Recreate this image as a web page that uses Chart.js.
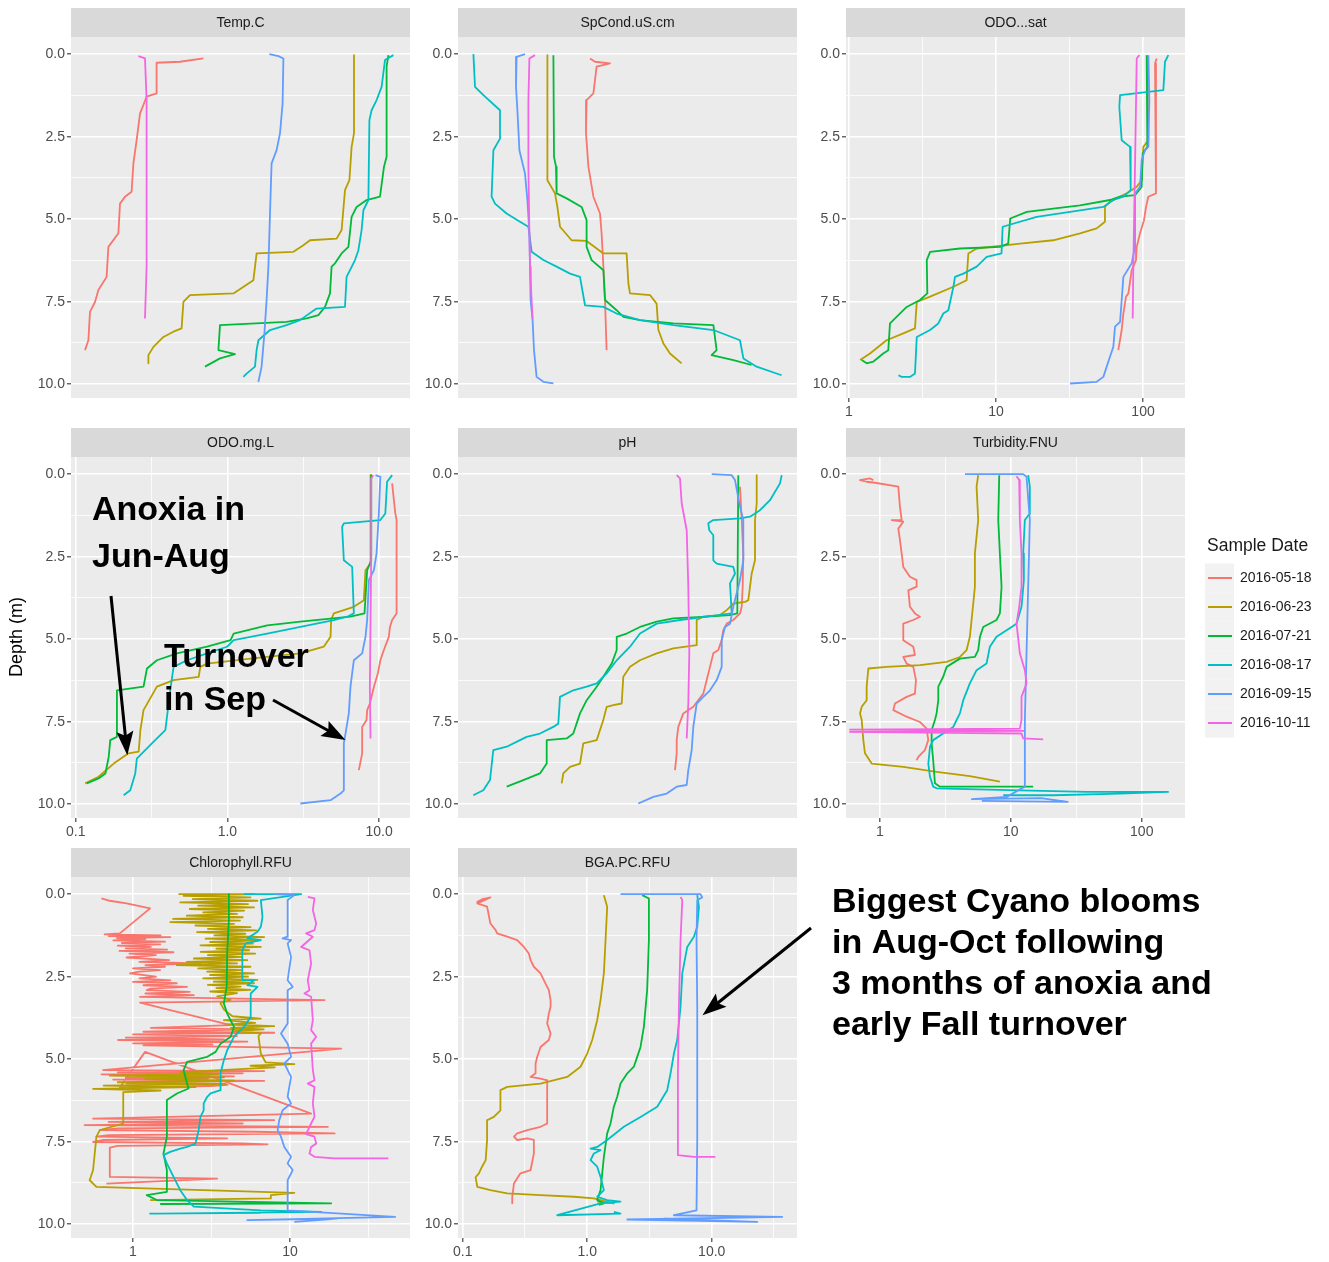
<!DOCTYPE html>
<html>
<head>
<meta charset="utf-8">
<title>Lake profiles 2016</title>
<script src="https://cdn.jsdelivr.net/npm/chart.js@4.4.1/dist/chart.umd.min.js"></script>
<style>
  html, body { margin: 0; padding: 0; background: #ffffff; }
  #page { position: relative; width: 1329px; height: 1262px; overflow: hidden; }
  .panel { position: absolute; z-index: 1; }
  #overlay { position: absolute; left: 0; top: 0; z-index: 5; pointer-events: none; }
</style>
</head>
<body>
<div id="page"><canvas id="overlay" width="1329" height="1262"></canvas></div>
<script>
const FONT = '"Liberation Sans", Arial, Helvetica, sans-serif';

// ---- categories ----
const sampleDates = ['2016-05-18', '2016-06-23', '2016-07-21', '2016-08-17', '2016-09-15', '2016-10-11'];
const panelTitles = ['Temp.C', 'SpCond.uS.cm', 'ODO...sat', 'ODO.mg.L', 'pH', 'Turbidity.FNU', 'Chlorophyll.RFU', 'BGA.PC.RFU'];

// ---- depth axis (m) ----
const depthBreaks = [0, 2.5, 5, 7.5, 10];
const depthMinorBreaks = [1.25, 3.75, 6.25, 8.75];
const depthLimits = [-0.52, 10.42];

// ---- measured axis of each panel ----
const axisLimits = [[10.8, 27.75], [330, 499.5], [0.954, 193], [0.0931, 16.0], [6.5, 9.89], [0.55, 214], [0.403, 58.1], [0.0917, 48.4]];
const axisLog = [false, false, true, true, false, true, true, true];
const axisBreaks = [[], [], [1, 10, 100], [0.1, 1, 10], [], [1, 10, 100], [1, 10], [0.1, 1, 10]];
const axisBreakLabels = [[], [], ['1', '10', '100'], ['0.1', '1.0', '10.0'], [], ['1', '10', '100'], ['1', '10'], ['0.1', '1.0', '10.0']];
const axisMinorBreaks = [[], [], [3.162, 31.62], [0.3162, 3.162], [], [3.162, 31.62], [3.162, 31.62], [0.3162, 3.162, 31.62]];

// ---- profiles: one series per sample date, [value, depth] ----
const temperature = [
  [[17.42,0.13],[16.25,0.23],[15.08,0.26],[15.08,1.19],[14.58,1.29],[14.25,1.80],[14.08,2.61],[13.92,3.31],[13.83,4.17],[13.5,4.32],[13.25,4.53],[13.17,5.43],[12.67,5.84],[12.58,6.75],[12.17,7.15],[12.0,7.51],[11.75,7.81],[11.67,8.67],[11.5,8.97]],
  [[24.95,0.03],[24.95,2.40],[24.83,2.81],[24.72,3.82],[24.5,4.12],[24.33,5.33],[24.08,5.59],[22.75,5.64],[22.42,5.79],[21.92,5.99],[20.08,6.04],[19.92,6.85],[18.92,7.25],[16.75,7.30],[16.42,7.51],[16.33,8.31],[15.92,8.41],[15.42,8.57],[14.92,8.87],[14.67,9.12],[14.67,9.37]],
  [[26.67,0.03],[26.58,0.38],[26.58,3.11],[26.45,3.41],[26.25,4.32],[25.58,4.42],[25.08,4.63],[24.83,4.93],[24.67,5.84],[24.33,6.04],[24.0,6.34],[23.83,6.44],[23.75,7.25],[23.5,7.66],[23.17,7.91],[22.58,8.01],[21.58,8.11],[18.25,8.21],[18.17,8.97],[19.0,9.09],[18.25,9.22],[17.5,9.47]],
  [[26.92,0.03],[26.5,0.18],[26.33,0.99],[26.08,1.39],[25.83,1.70],[25.72,2.0],[25.67,4.42],[25.42,4.73],[25.33,5.33],[25.17,5.94],[25.0,6.24],[24.58,6.75],[24.5,7.66],[23.08,7.71],[22.25,8.06],[21.58,8.21],[20.75,8.36],[20.17,8.67],[20.08,8.97],[20.0,9.47],[19.58,9.68],[19.42,9.78]],
  [[20.72,0],[21.17,0.06],[21.42,0.13],[21.38,1.49],[21.25,2.40],[21.08,2.91],[20.83,3.31],[20.75,4.83],[20.67,6.44],[20.58,7.45],[20.47,8.46],[20.33,9.47],[20.17,9.93]],
  [[14.17,0.06],[14.5,0.13],[14.58,1.39],[14.58,6.44],[14.5,8.01]]
];

const spCond = [
  [[396,0.13],[398.5,0.23],[406,0.28],[399.3,0.38],[398.5,0.79],[397.7,1.19],[394.3,1.39],[394,2.40],[395.2,3.41],[397.7,4.32],[401,4.83],[401.8,5.43],[402.7,6.44],[403.5,7.45],[404.3,8.97]],
  [[374.7,0.03],[374.7,3.82],[378.5,4.22],[379.7,4.63],[381,5.23],[386.8,5.64],[394.3,5.66],[402.7,6.04],[414.3,6.04],[415.2,6.95],[416,7.25],[426,7.30],[429.3,7.56],[430.2,8.36],[432.7,8.77],[436,9.07],[441.8,9.37]],
  [[377.7,0.03],[378,3.11],[379,3.41],[379.3,4.22],[384.3,4.37],[391.8,4.63],[394.3,5.03],[394.3,5.84],[396.8,6.24],[402.7,6.55],[403.5,7.45],[409.3,7.76],[412.7,7.96],[421,8.06],[437.7,8.16],[457.7,8.21],[459.3,8.97],[456.8,9.12],[467.7,9.27],[476.8,9.42]],
  [[337.7,0],[338.5,0.99],[342.7,1.24],[351,1.70],[351,2.56],[347.7,2.91],[346.8,4.32],[348.5,4.53],[354.3,4.83],[361,5.08],[365.2,5.23],[366.8,5.99],[372.7,6.24],[379.3,6.44],[386,6.65],[391,6.75],[393.5,7.61],[402.7,7.66],[409.3,7.86],[421,8.06],[437.7,8.21],[457.7,8.36],[471,8.67],[472.7,9.22],[479.3,9.47],[491.8,9.73]],
  [[363.5,0],[359.3,0.08],[359,0.99],[359.7,1.70],[360.7,2.91],[363.5,3.62],[364.7,4.42],[365.7,5.43],[366,6.44],[366.3,7.45],[367.3,8.06],[368,8.97],[369.3,9.78],[372.7,9.93],[377.7,9.98]],
  [[368.5,0.03],[365.7,0.13],[365.2,1.39],[365.2,3.41],[365.7,5.43],[366,6.44],[366.8,7.45],[367.3,8.01]]
];

const odoSat = [
  [[123.9,0.13],[120.7,0.28],[122.5,4.22],[108.6,4.32],[104.8,4.63],[101.6,5.03],[95.4,5.43],[90.6,5.84],[89.6,6.24],[83.7,6.55],[79.5,7.25],[76.6,7.35],[73.5,7.86],[71.6,8.36],[67.9,8.97]],
  [[107.0,0.03],[108.7,2.61],[100.5,2.81],[97.9,3.82],[90.6,4.02],[77.4,4.22],[59.6,4.47],[55.1,4.63],[55.1,5.08],[48.4,5.28],[37.3,5.43],[24.5,5.64],[14.6,5.74],[7.39,5.89],[6.48,6.04],[6.31,6.85],[5.13,7.05],[3.56,7.35],[2.89,7.51],[2.81,8.31],[2.34,8.46],[1.80,8.67],[1.39,9.07],[1.19,9.27]],
  [[105.9,0.03],[107.0,2.81],[99.5,3.01],[97.9,4.02],[88.2,4.27],[69.8,4.32],[59.6,4.42],[37.3,4.58],[24.5,4.68],[16.2,4.78],[12.5,4.98],[12.1,5.74],[10.65,5.84],[5.69,5.89],[3.56,5.99],[3.38,6.24],[3.41,7.25],[3.04,7.45],[2.47,7.66],[1.90,8.16],[1.85,8.97],[1.71,9.07],[1.46,9.32],[1.32,9.37],[1.22,9.27]],
  [[148.6,0.03],[141.1,0.23],[137.5,1.09],[69.8,1.24],[69.0,1.60],[71.6,2.61],[81.6,2.81],[82.4,4.12],[73.5,4.32],[62.8,4.42],[53.7,4.63],[31.9,4.78],[18.9,4.93],[11.1,5.23],[10.9,6.04],[8.64,6.14],[7.39,6.44],[6.0,6.65],[5.26,6.75],[5.13,7.05],[4.74,7.76],[4.38,7.86],[4.05,8.16],[3.56,8.36],[2.89,8.57],[2.81,9.68],[2.60,9.78],[2.28,9.78],[2.17,9.73]],
  [[108.7,0.03],[110.4,1.39],[108.7,2.81],[103.2,2.91],[97.9,3.21],[95.4,4.02],[88.2,4.22],[88.2,5.84],[83.7,6.34],[73.5,6.75],[71.6,7.45],[69.8,8.11],[64.5,8.26],[62.8,8.87],[59.6,9.17],[53.7,9.78],[48.4,9.93],[31.9,9.98]],
  [[94.4,0.03],[90.6,0.13],[88.2,3.41],[85.9,6.44],[85.1,8.01]]
];

const odoMgL = [
  [[12.2,0.28],[12.8,1.19],[13.05,1.39],[13.05,4.22],[12.2,4.42],[11.8,4.63],[11.6,4.93],[10.76,5.33],[10.2,5.64],[9.82,6.04],[9.25,6.44],[8.70,6.95],[8.35,7.15],[8.27,7.45],[7.74,7.66],[7.74,8.46],[7.36,8.97]],
  [[8.79,0.03],[8.79,2.71],[8.14,2.91],[7.94,3.82],[6.82,4.02],[5.03,4.22],[4.83,4.42],[4.79,4.93],[4.32,5.23],[3.03,5.43],[1.42,5.59],[0.734,5.74],[0.663,5.84],[0.647,6.14],[0.442,6.24],[0.343,6.44],[0.280,7.15],[0.267,7.76],[0.260,8.41],[0.223,8.46],[0.178,8.77],[0.1415,9.17],[0.1155,9.37]],
  [[8.88,0.03],[8.88,2.61],[8.35,2.91],[8.02,4.22],[6.48,4.32],[3.03,4.47],[1.83,4.58],[1.10,4.83],[1.05,5.03],[0.734,5.23],[0.465,5.43],[0.343,5.64],[0.295,5.89],[0.280,6.44],[0.187,6.55],[0.187,7.96],[0.169,8.06],[0.165,8.57],[0.157,9.07],[0.1415,9.22],[0.1185,9.37]],
  [[12.2,0.03],[11.3,0.23],[11.0,1.19],[10.2,1.39],[5.86,1.49],[5.71,1.60],[5.86,2.61],[6.65,2.81],[6.82,4.22],[6.17,4.32],[5.03,4.42],[3.03,4.63],[1.83,4.83],[1.10,5.03],[0.995,5.23],[0.734,5.43],[0.542,5.64],[0.442,5.84],[0.420,6.55],[0.390,7.76],[0.318,8.16],[0.253,8.62],[0.247,9.07],[0.229,9.58],[0.207,9.73]],
  [[9.48,0.03],[10.2,0.08],[9.97,1.19],[9.63,2.40],[9.25,2.91],[8.57,3.21],[8.35,4.42],[8.14,4.93],[7.74,5.43],[6.82,5.64],[6.48,6.44],[6.32,7.25],[6.01,7.86],[5.86,8.16],[5.86,9.58],[5.57,9.68],[4.79,9.88],[3.03,9.98]],
  [[9.15,0.03],[8.88,0.13],[8.88,2.40],[8.79,4.42],[8.70,6.44],[8.79,8.01]]
];

const pH = [
  [[9.32,0.38],[9.337,1.39],[9.353,2.40],[9.347,3.41],[9.337,4.02],[9.32,4.22],[9.253,4.42],[9.187,4.53],[9.153,4.73],[9.137,5.03],[9.103,5.33],[9.053,5.43],[9.02,5.84],[8.987,6.24],[8.953,6.65],[8.853,7.05],[8.753,7.25],[8.703,7.66],[8.687,8.06],[8.687,8.46],[8.67,8.97]],
  [[9.487,0.03],[9.487,0.89],[9.47,1.39],[9.47,2.61],[9.437,3.01],[9.403,3.82],[9.37,3.87],[9.253,3.92],[9.187,4.12],[9.12,4.27],[8.953,4.32],[8.887,4.42],[8.887,5.18],[8.653,5.28],[8.487,5.43],[8.32,5.64],[8.22,5.84],[8.153,6.14],[8.137,6.95],[8.053,7.0],[7.987,7.05],[7.953,7.45],[7.887,8.06],[7.753,8.16],[7.72,8.77],[7.62,8.87],[7.553,9.07],[7.537,9.37]],
  [[9.303,0.03],[9.293,4.22],[9.22,4.27],[8.987,4.32],[8.653,4.37],[8.487,4.47],[8.32,4.63],[8.187,4.83],[8.087,4.93],[8.087,5.33],[8.037,5.74],[7.953,6.14],[7.887,6.44],[7.787,6.85],[7.72,7.25],[7.653,7.86],[7.587,8.01],[7.387,8.06],[7.387,8.77],[7.32,9.07],[7.153,9.27],[6.987,9.47]],
  [[9.737,0.03],[9.72,0.28],[9.62,0.79],[9.52,1.09],[9.42,1.29],[9.32,1.34],[9.053,1.39],[9.003,1.49],[9.013,1.70],[9.053,1.85],[9.053,2.61],[9.087,2.71],[9.253,2.81],[9.27,3.01],[9.22,3.31],[9.237,4.22],[8.987,4.32],[8.72,4.42],[8.487,4.53],[8.32,4.83],[8.22,5.23],[8.087,5.64],[7.987,6.04],[7.887,6.34],[7.787,6.44],[7.653,6.55],[7.52,6.75],[7.503,7.56],[7.453,7.66],[7.32,7.86],[7.187,7.96],[7.12,8.06],[6.987,8.26],[6.853,8.36],[6.82,9.27],[6.753,9.58],[6.653,9.73]],
  [[9.037,0],[9.237,0.03],[9.27,0.18],[9.32,0.99],[9.353,1.39],[9.353,2.61],[9.32,3.21],[9.253,4.02],[9.22,4.53],[9.17,4.63],[9.137,5.03],[9.137,5.84],[9.087,6.24],[9.02,6.55],[8.953,6.75],[8.887,6.95],[8.853,7.66],[8.837,8.36],[8.803,8.97],[8.787,9.42],[8.687,9.47],[8.587,9.68],[8.453,9.78],[8.303,9.98]],
  [[8.687,0.03],[8.72,0.13],[8.737,0.89],[8.787,1.70],[8.803,3.41],[8.813,5.43],[8.803,6.95],[8.787,8.01]]
];

const turbidity = [
  [[0.889,0.18],[0.839,0.13],[0.704,0.18],[0.791,0.23],[0.916,0.26],[1.380,0.38],[1.421,0.99],[1.464,1.39],[1.228,1.39],[1.507,1.44],[1.380,1.65],[1.421,2.0],[1.464,2.40],[1.507,2.81],[1.694,3.11],[1.905,3.21],[1.905,3.41],[1.646,3.52],[1.694,4.02],[1.850,4.22],[2.020,4.32],[1.797,4.42],[1.507,4.53],[1.507,5.03],[1.797,5.23],[1.850,5.48],[1.507,5.54],[1.598,5.74],[1.797,5.84],[1.883,6.24],[1.850,6.65],[1.598,6.75],[1.302,6.95],[1.264,7.15],[1.598,7.35],[2.020,7.51],[2.271,7.71],[2.339,8.06],[2.205,8.36],[1.962,8.57],[1.905,8.67]],
  [[5.63,0.03],[5.47,0.38],[5.63,1.39],[5.31,2.40],[5.31,3.41],[5.16,3.92],[5.01,4.42],[4.86,4.93],[4.59,5.33],[4.08,5.54],[3.23,5.69],[2.02,5.79],[1.124,5.84],[0.815,5.89],[0.791,6.44],[0.791,6.85],[0.725,7.05],[0.704,7.25],[0.725,7.45],[0.746,8.06],[0.768,8.46],[0.864,8.77],[1.507,8.87],[2.707,9.02],[4.86,9.15],[8.24,9.32]],
  [[8.15,0.03],[8.01,1.39],[8.24,2.40],[8.49,3.41],[8.24,4.22],[7.77,4.42],[6.15,4.63],[5.80,4.93],[5.63,5.33],[5.31,5.54],[4.08,5.59],[3.23,5.84],[3.04,6.14],[2.87,6.34],[2.79,6.44],[2.79,6.85],[2.707,7.25],[2.63,7.45],[2.48,7.76],[2.48,8.16],[2.55,8.67],[2.63,9.37],[2.87,9.47],[14.8,9.47]],
  [[13.56,0.03],[13.96,0.38],[13.96,1.19],[12.79,1.39],[12.42,2.40],[12.57,3.21],[12.06,4.02],[11.05,4.53],[9.27,4.73],[7.77,4.93],[6.91,5.23],[6.52,5.74],[5.47,5.94],[4.86,6.34],[4.33,6.85],[4.08,7.25],[3.85,7.45],[3.63,7.66],[3.04,7.86],[2.55,8.06],[2.41,8.26],[2.34,8.77],[2.41,9.17],[2.55,9.47],[2.707,9.52],[11.71,9.58],[37.8,9.63],[158.9,9.63],[67.9,9.68],[21.05,9.73],[8.74,9.73]],
  [[4.46,0],[12.42,0],[13.17,0.08],[13.96,1.39],[13.56,3.41],[13.17,5.43],[12.79,7.45],[12.79,9.47],[9.27,9.78],[5.04,9.85],[17.0,9.82],[27.2,9.93],[6.0,9.90]],
  [[11.05,0.06],[11.58,0.18],[11.71,1.39],[12.06,2.40],[12.06,3.41],[11.58,4.02],[11.05,4.53],[11.71,5.43],[12.79,5.94],[13.17,6.34],[12.06,6.75],[12.06,7.45],[11.71,7.71],[0.59,7.74],[12.42,7.78],[0.59,7.81],[12.06,7.86],[12.42,8.01],[17.65,8.04]]
];

const chlorophyll = [
  [[0.630,0.13],[0.712,0.20],[0.911,0.28],[1.285,0.43],[0.825,1.19],[0.66,1.22],[1.5,1.25],[0.70,1.27],[1.73,1.30],[0.79,1.33],[1.2,1.36],[0.75,1.40],[1.6,1.44],[0.85,1.48],[1.49,1.52],[0.80,1.56],[1.3,1.60],[0.9,1.64],[1.65,1.68],[0.82,1.72],[1.81,1.76],[0.95,1.80],[1.4,1.85],[0.91,1.92],[1.7,2.0],[1.1,2.05],[2.69,2.10],[1.2,2.15],[1.6,2.2],[1.0,2.25],[1.49,2.3],[1.1,2.35],[0.957,2.40],[1.4,2.5],[1.1,2.55],[1.73,2.61],[1.0,2.66],[1.9,2.7],[1.165,2.76],[2.21,2.81],[1.3,2.86],[1.224,2.91],[2.3,2.96],[1.2,3.01],[2.44,3.06],[1.109,3.11],[16.6,3.21],[1.109,3.29],[4.19,3.97],[1.3,4.05],[5.5,4.1],[1.165,4.17],[7.93,4.2],[1.0,4.25],[4.6,4.3],[0.9,4.35],[3.8,4.4],[0.805,4.42],[5.35,4.47],[1.0,4.52],[3.2,4.55],[1.165,4.58],[21.2,4.68],[0.645,5.33],[6.85,5.36],[0.8,5.40],[5.0,5.43],[0.63,5.46],[4.40,5.52],[0.9,5.56],[3.0,5.59],[0.748,5.62],[6.85,5.66],[1.0,5.70],[0.911,5.74],[4.0,5.78],[3.12,5.82],[0.825,5.86],[1.194,4.78],[13.63,6.65],[0.557,6.80],[7.93,6.85],[0.7,6.90],[5.0,6.95],[0.492,7.0],[17.43,7.05],[0.8,7.1],[0.615,7.15],[6.0,7.2],[19.24,7.25],[0.7,7.3],[0.585,7.35],[3.98,7.40],[0.65,7.45],[0.557,7.51],[5.0,7.55],[7.19,7.58],[0.8,7.63],[0.712,7.68],[0.712,8.57],[3.44,8.62],[0.678,8.77]],
  [[1.95,0],[5.91,0],[2.1,0.05],[5.6,0.1],[2.4,0.15],[6.2,0.2],[2.0,0.25],[5.4,0.3],[2.6,0.35],[5.9,0.4],[2.3,0.45],[5.1,0.5],[2.8,0.55],[4.6,0.6],[2.2,0.65],[5.0,0.7],[1.8,0.75],[4.8,0.8],[1.73,0.85],[4.4,0.9],[2.5,0.95],[5.6,1.0],[3.0,1.05],[6.1,1.1],[2.56,1.15],[5.2,1.2],[3.3,1.25],[6.85,1.3],[2.9,1.35],[6.4,1.4],[3.1,1.45],[5.8,1.5],[2.69,1.55],[6.52,1.6],[3.4,1.65],[5.5,1.7],[2.7,1.75],[6.0,1.8],[3.0,1.85],[4.9,1.9],[2.44,1.95],[5.35,2.0],[2.2,2.05],[4.6,2.1],[1.9,2.15],[5.6,2.2],[2.6,2.25],[4.9,2.3],[2.97,2.35],[5.9,2.4],[3.1,2.45],[5.4,2.5],[2.8,2.55],[6.2,2.6],[3.27,2.65],[5.9,2.7],[3.0,2.75],[4.85,2.8],[3.4,2.85],[5.6,2.9],[3.1,2.95],[4.6,3.0],[3.44,3.1],[4.2,3.2],[3.6,3.3],[3.8,3.5],[4.3,3.7],[6.52,3.77],[3.79,3.82],[6.0,3.9],[4.0,3.95],[7.93,4.0],[4.2,4.05],[6.8,4.1],[4.4,4.15],[6.52,4.22],[6.3,4.3],[6.52,4.83],[7.0,5.1],[10.66,5.15],[5.6,5.2],[8.0,5.25],[4.8,5.3],[3.61,5.33],[2.0,5.4],[3.5,5.45],[0.712,5.5],[3.8,5.55],[1.2,5.6],[4.4,5.65],[0.8,5.7],[3.9,5.75],[0.65,5.8],[2.5,5.85],[0.557,5.9],[1.5,5.95],[0.867,6.0],[0.867,6.95],[0.615,7.15],[0.585,7.35],[0.557,8.36],[0.530,8.67],[0.585,8.87],[10.66,9.05],[7.55,9.12],[7.55,9.22],[1.285,9.27]],
  [[4.08,0],[4.08,0.79],[3.98,1.80],[3.95,2.81],[3.79,3.31],[3.98,3.62],[4.40,4.02],[4.19,4.32],[3.61,4.53],[3.36,4.78],[2.97,4.93],[2.21,5.08],[2.10,5.33],[2.21,5.74],[2.26,5.89],[1.905,6.04],[1.644,6.24],[1.644,7.35],[1.564,7.86],[1.644,8.36],[1.644,9.02],[1.224,9.12],[1.418,9.27],[18.3,9.37],[1.490,9.39]],
  [[5.10,0],[11.8,0],[6.52,0.18],[6.68,0.69],[6.52,0.99],[6.21,1.14],[5.35,1.34],[6.52,1.39],[5.22,1.49],[4.97,1.70],[4.97,2.61],[5.91,2.61],[5.35,2.76],[6.21,2.81],[5.62,3.01],[5.62,3.72],[5.10,4.02],[4.40,4.32],[3.98,4.73],[3.79,5.03],[3.61,5.43],[3.61,5.94],[3.12,6.04],[2.97,6.14],[2.82,6.34],[2.82,6.55],[2.69,6.75],[2.62,7.15],[2.56,7.35],[2.50,7.56],[2.21,7.66],[2.00,7.71],[1.726,7.81],[1.564,7.91],[1.644,8.16],[1.813,8.57],[2.00,8.97],[2.21,9.27],[2.44,9.47],[6.52,9.58],[15.8,9.63],[1.490,9.68],[1.285,9.68],[6.52,9.66]],
  [[7.93,0],[10.66,0.03],[9.66,0.18],[9.66,1.29],[8.97,1.34],[10.15,1.39],[9.66,1.49],[10.15,1.90],[9.66,2.61],[10.40,2.81],[9.66,2.91],[9.66,3.92],[8.76,4.22],[9.66,4.53],[10.15,4.93],[9.20,5.13],[10.15,5.54],[9.66,6.14],[10.15,6.34],[8.97,6.55],[8.54,6.85],[8.34,7.15],[8.76,7.35],[9.20,7.66],[10.15,7.96],[9.66,8.16],[10.40,8.36],[9.66,8.67],[9.66,9.58],[46.7,9.78],[5.35,9.88],[20.0,9.83],[10.66,9.93]],
  [[12.98,0.08],[14.32,0.13],[13.98,0.48],[14.68,0.89],[14.32,1.09],[12.66,1.19],[13.98,1.29],[11.77,1.60],[13.30,1.70],[13.63,2.10],[12.98,2.61],[13.30,2.91],[12.36,3.01],[13.63,3.11],[13.98,3.82],[13.63,4.12],[14.68,4.32],[13.63,4.53],[13.98,5.33],[14.32,5.64],[12.98,5.74],[14.32,5.84],[13.98,6.34],[14.32,6.75],[13.63,6.95],[12.66,7.27],[14.32,7.35],[14.68,7.56],[13.63,7.66],[13.30,7.86],[14.32,7.96],[19.24,8.01],[42.3,8.01]]
];

const bgaPC = [
  [[0.148,0.13],[0.131,0.23],[0.143,0.16],[0.167,0.10],[0.131,0.28],[0.157,0.38],[0.167,0.89],[0.184,1.09],[0.189,1.19],[0.228,1.29],[0.274,1.39],[0.310,1.60],[0.340,1.80],[0.351,2.0],[0.373,2.20],[0.422,2.40],[0.463,2.71],[0.492,2.91],[0.508,3.21],[0.508,3.41],[0.492,3.62],[0.477,3.92],[0.508,4.22],[0.492,4.42],[0.422,4.63],[0.397,4.93],[0.385,5.13],[0.385,5.43],[0.351,5.54],[0.422,5.59],[0.477,5.64],[0.477,6.95],[0.422,7.05],[0.330,7.15],[0.274,7.25],[0.258,7.35],[0.274,7.45],[0.330,7.40],[0.373,7.45],[0.373,7.86],[0.351,8.36],[0.291,8.46],[0.258,8.77],[0.250,9.17],[0.250,9.37]],
  [[1.361,0.03],[1.447,0.38],[1.404,1.39],[1.361,2.40],[1.280,3.21],[1.203,3.82],[1.097,4.42],[1.0,4.83],[0.884,5.23],[0.691,5.54],[0.422,5.74],[0.228,5.84],[0.201,5.94],[0.201,6.55],[0.178,6.75],[0.157,6.85],[0.157,7.45],[0.153,8.06],[0.143,8.26],[0.135,8.46],[0.127,8.58],[0.131,8.87],[0.167,8.97],[0.228,9.07],[0.422,9.12],[0.781,9.17],[1.131,9.22],[1.637,9.37],[1.203,9.32]],
  [[2.765,0.03],[3.13,0.13],[3.13,1.39],[3.03,2.91],[2.85,4.02],[2.68,4.63],[2.52,4.93],[2.37,5.23],[2.10,5.43],[1.852,5.74],[1.742,6.14],[1.637,6.44],[1.539,6.95],[1.447,7.25],[1.361,7.96],[1.320,8.46],[1.280,8.97],[1.203,9.27],[1.361,9.37],[1.241,9.42]],
  [[7.65,0.03],[7.89,0.38],[7.65,0.99],[7.19,1.29],[6.36,1.60],[5.80,2.40],[5.62,3.41],[5.28,4.42],[4.97,4.83],[4.67,5.43],[4.39,5.94],[3.65,6.44],[2.68,6.75],[1.970,7.05],[1.447,7.45],[1.203,7.66],[1.064,7.71],[1.280,7.76],[1.131,7.86],[1.064,8.06],[1.203,8.26],[1.280,8.57],[1.361,8.97],[1.203,9.17],[1.447,9.27],[1.852,9.32],[1.280,9.37],[0.574,9.73],[1.852,9.68],[1.637,9.63]],
  [[1.852,0],[8.13,0],[8.39,0.10],[7.65,0.18],[7.55,1.39],[7.65,3.41],[7.65,5.43],[7.65,7.45],[7.55,9.58],[4.97,9.73],[36.8,9.78],[2.10,9.86],[23.2,9.93],[4.13,9.83]],
  [[5.62,0.08],[5.80,0.18],[5.62,1.39],[5.45,3.41],[5.35,5.43],[5.35,7.91],[7.19,7.96],[10.7,7.96]]
];

const panelSeries = [temperature, spCond, odoSat, odoMgL, pH, turbidity, chlorophyll, bgaPC];

// ---- styling ----
const dateColours = ['#F8766D', '#B79F00', '#00BA38', '#00BFC4', '#619CFF', '#F564E3'];
const colLeft = [71, 458, 846];
const rowTop = [37, 457, 877];
const PLOT_W = 339, PLOT_H = 361, STRIP_H = 29, Y_AXIS_W = 60, X_AXIS_H = 26, RIGHT_PAD = 12;

// grey panel background and facet strip
const panelDecor = {
  id: 'panelDecor',
  beforeDraw(chart, args, opts) {
    const ctx = chart.ctx, a = chart.chartArea;
    ctx.save();
    ctx.fillStyle = '#EBEBEB';
    ctx.fillRect(a.left, a.top, a.right - a.left, a.bottom - a.top);
    ctx.fillStyle = '#D9D9D9';
    ctx.fillRect(a.left, a.top - STRIP_H, a.right - a.left, STRIP_H);
    ctx.fillStyle = '#1A1A1A';
    ctx.font = '14px ' + FONT;
    ctx.textAlign = 'center';
    ctx.textBaseline = 'middle';
    ctx.fillText(opts.title, (a.left + a.right) / 2, a.top - STRIP_H / 2 + 1);
    ctx.restore();
  }
};

const gridOpts = {
  color: '#FFFFFF',
  lineWidth: c => (c.tick && c.tick.isMajor ? 1.6 : 0.8),
  drawTicks: true,
  tickLength: 4,
  tickWidth: 1.1,
  tickColor: c => (c.tick && c.tick.isMajor ? '#333333' : 'rgba(0,0,0,0)')
};
const tickFont = { family: FONT, size: 14 };

function measuredAxis(i) {
  const base = {
    min: axisLimits[i][0], max: axisLimits[i][1], bounds: 'data',
    afterFit: s => { s.height = X_AXIS_H; s.paddingLeft = 0; s.paddingRight = 0; },
    border: { display: false }
  };
  if (!axisLog[i]) {
    return Object.assign(base, {
      type: 'linear',
      grid: { display: false },
      ticks: { display: false }
    });
  }
  return Object.assign(base, {
    type: 'logarithmic',
    afterBuildTicks: s => {
      const t = axisBreaks[i].map((v, j) => ({ value: v, isMajor: true, lbl: axisBreakLabels[i][j] }))
        .concat(axisMinorBreaks[i].map(v => ({ value: v, isMajor: false, lbl: '' })));
      t.sort((p, q) => p.value - q.value);
      s.ticks = t;
    },
    grid: gridOpts,
    ticks: {
      autoSkip: false, maxRotation: 0, minRotation: 0, padding: 2,
      color: '#4D4D4D', font: tickFont,
      callback: (v, k, t) => t[k].lbl
    }
  });
}

function depthAxis() {
  return {
    type: 'linear', reverse: true, min: depthLimits[0], max: depthLimits[1], bounds: 'data',
    afterBuildTicks: s => {
      const t = depthBreaks.map(v => ({ value: v, isMajor: true }))
        .concat(depthMinorBreaks.map(v => ({ value: v, isMajor: false })));
      t.sort((p, q) => p.value - q.value);
      s.ticks = t;
    },
    afterFit: s => { s.width = Y_AXIS_W; s.paddingTop = 0; s.paddingBottom = 0; },
    grid: gridOpts,
    border: { display: false },
    ticks: {
      autoSkip: false, padding: 2, color: '#4D4D4D', font: tickFont,
      callback: (v, k, t) => (t[k].isMajor ? v.toFixed(1) : '')
    }
  };
}

const page = document.getElementById('page');
const charts = [];
const panelOrigin = [];

panelTitles.forEach((title, i) => {
  const col = i % 3, row = Math.floor(i / 3);
  const left = colLeft[col] - Y_AXIS_W, top = rowTop[row] - STRIP_H;
  const canvas = document.createElement('canvas');
  canvas.className = 'panel';
  canvas.width = Y_AXIS_W + PLOT_W + RIGHT_PAD;
  canvas.height = STRIP_H + PLOT_H + X_AXIS_H;
  canvas.style.left = left + 'px';
  canvas.style.top = top + 'px';
  page.appendChild(canvas);
  panelOrigin.push([left, top]);

  const datasets = panelSeries[i].map((series, k) => ({
    label: sampleDates[k],
    data: series.map(p => ({ x: p[0], y: p[1] })),
    showLine: true,
    borderColor: dateColours[k],
    backgroundColor: dateColours[k],
    borderWidth: 1.8,
    pointRadius: 0,
    pointHoverRadius: 0,
    tension: 0,
    borderJoinStyle: 'round',
    order: sampleDates.length - 1 - k
  }));

  charts.push(new Chart(canvas, {
    type: 'scatter',
    data: { datasets },
    options: {
      responsive: false,
      animation: false,
      devicePixelRatio: 1,
      events: [],
      layout: { padding: { top: STRIP_H, right: RIGHT_PAD, left: 0, bottom: 0 } },
      plugins: { legend: { display: false }, tooltip: { enabled: false }, panelDecor: { title } },
      scales: { x: measuredAxis(i), y: depthAxis() }
    },
    plugins: [panelDecor]
  }));
});

// ---- axis title, legend and annotations ----
const ov = document.getElementById('overlay').getContext('2d');

ov.save();
ov.translate(17, 637);
ov.rotate(-Math.PI / 2);
ov.font = '18px ' + FONT;
ov.fillStyle = '#000000';
ov.textAlign = 'center';
ov.textBaseline = 'middle';
ov.fillText('Depth (m)', 0, 0);
ov.restore();

// legend
ov.font = '17.5px ' + FONT;
ov.fillStyle = '#1A1A1A';
ov.textAlign = 'left';
ov.textBaseline = 'alphabetic';
ov.fillText('Sample Date', 1207, 551);
sampleDates.forEach((d, k) => {
  const cy = 578 + k * 29;
  ov.fillStyle = '#F2F2F2';
  ov.fillRect(1205, cy - 14.5, 29, 29);
  ov.strokeStyle = dateColours[k];
  ov.lineWidth = 2;
  ov.beginPath();
  ov.moveTo(1208, cy);
  ov.lineTo(1232, cy);
  ov.stroke();
  ov.fillStyle = '#1A1A1A';
  ov.font = '14px ' + FONT;
  ov.textBaseline = 'middle';
  ov.fillText(d, 1240, cy);
});

function pagePoint(panel, x, y) {
  const c = charts[panel];
  return [panelOrigin[panel][0] + c.scales.x.getPixelForValue(x),
          panelOrigin[panel][1] + c.scales.y.getPixelForValue(y)];
}

function arrow(x0, y0, x1, y1) {
  const ang = Math.atan2(y1 - y0, x1 - x0);
  const len = 24, hw = 8.5;
  const cs = Math.cos(ang), sn = Math.sin(ang);
  ov.strokeStyle = '#000000';
  ov.fillStyle = '#000000';
  ov.lineWidth = 3;
  ov.lineCap = 'butt';
  ov.beginPath();
  ov.moveTo(x0, y0);
  ov.lineTo(x1 - cs * len * 0.7, y1 - sn * len * 0.7);
  ov.stroke();
  const bx = x1 - cs * len, by = y1 - sn * len;
  ov.beginPath();
  ov.moveTo(x1, y1);
  ov.lineTo(bx + sn * hw, by - cs * hw);
  ov.lineTo(x1 - cs * len * 0.82, y1 - sn * len * 0.82);
  ov.lineTo(bx - sn * hw, by + cs * hw);
  ov.closePath();
  ov.fill();
}

function boldLines(lines, x, y0, step) {
  ov.font = 'bold 34px ' + FONT;
  ov.fillStyle = '#000000';
  ov.textAlign = 'left';
  ov.textBaseline = 'alphabetic';
  lines.forEach((t, j) => ov.fillText(t, x, y0 + j * step));
}

boldLines(['Anoxia in', 'Jun-Aug'], 92, 520, 47);
boldLines(['Turnover', 'in Sep'], 164, 667, 43);
boldLines(['Biggest Cyano blooms', 'in Aug-Oct following', '3 months of anoxia and', 'early Fall turnover'], 832, 912, 41);

const anoxiaTip = pagePoint(3, 0.219, 8.52);
arrow(111, 596, anoxiaTip[0], anoxiaTip[1]);
const turnoverTip = pagePoint(3, 6.01, 8.06);
arrow(273, 700, turnoverTip[0], turnoverTip[1]);
const cyanoTip = pagePoint(7, 8.43, 3.67);
arrow(811, 928, cyanoTip[0], cyanoTip[1]);
</script>
</body>
</html>
